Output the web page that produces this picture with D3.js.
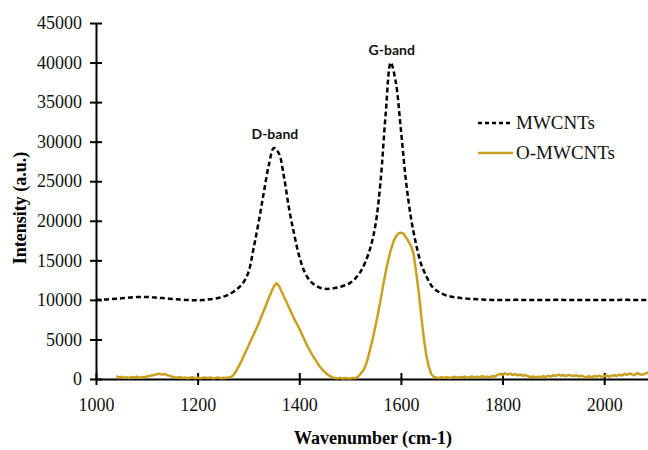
<!DOCTYPE html>
<html>
<head>
<meta charset="utf-8">
<script src="https://cdn.jsdelivr.net/npm/d3@7"></script>
<style>
  body { margin: 0; background: #fff; }
  svg { display: block; }
</style>
</head>
<body>
<svg id="chart" width="648" height="450"></svg>
<script>
// axis ticks
const xTicks = [1000, 1200, 1400, 1600, 1800, 2000];
const yTicks = [0, 5000, 10000, 15000, 20000, 25000, 30000, 35000, 40000, 45000];

// MWCNTs, sampled every 10 cm-1 from 1000 to 2100
const mwStart = 1000, mwStep = 10;
const mwValues = [
  10000, 10020, 10050, 10100, 10150, 10200, 10260, 10310, 10350, 10380,
  10370, 10330, 10280, 10230, 10180, 10120, 10070, 10020, 9980, 9960,
  9950, 9980, 10040, 10120, 10230, 10400, 10650, 11000, 11500, 12200,
  13500, 16500, 19800, 23500, 27000, 29200, 28500, 25500, 21500, 18300,
  15500, 13600, 12500, 11900, 11550, 11400, 11400, 11500, 11650, 11850,
  12150, 12700, 13500, 14800, 16600, 19500, 25000, 33500, 40000, 37500,
  31500, 25000, 20300, 17000, 14500, 13000, 11800, 11200, 10800, 10550,
  10400, 10300, 10220, 10160, 10110, 10070, 10040, 10020, 10000, 10000,
  10000, 9990, 10000, 10010, 10000, 9990, 10000, 10000, 9990, 10000,
  10000, 10010, 10000, 9990, 10000, 10000, 10000, 9990, 10000, 10000,
  10000, 10000, 9990, 10000, 10010, 10000, 10000, 9990, 10000, 10000,
  10000
];

// O-MWCNTs, sampled every 5 cm-1 from 1040 to 2100
const oStart = 1040, oStep = 5;
const oValues = [
  // 1040-1100
  350, 200, 280, 150, 230, 120, 260, 180, 300, 150, 250, 220, 320,
  // 1105-1150
  380, 450, 520, 600, 680, 550, 620, 480, 400, 300,
  // 1155-1260
  220, 150, 250, 120, 180, 90, 160, 220, 100, 170, 80, 150, 200, 110, 180, 90, 140, 200, 100, 160, 120, 180,
  // 1265-1460 (D-band)
  200, 500, 900, 1500, 2100, 2800, 3500, 4200, 4900, 5600,
  6300, 7000, 7800, 8600, 9400, 10200, 11000, 11700, 12100, 11800,
  11100, 10400, 9700, 9000, 8300, 7600, 7000, 6400, 5700, 5000,
  4300, 3700, 3100, 2600, 2100, 1600, 1200, 900, 600, 400,
  // 1465-1510
  200, 120, 80, 150, 60, 130, 90, 50, 140, 100,
  // 1515-1665 (G-band)
  250, 600, 1000, 1600, 2600, 3900, 5200, 6700, 8300, 10000,
  11800, 13500, 15000, 16300, 17300, 18000, 18400, 18500, 18400, 17900,
  17400, 16800, 15800, 13500, 11000, 8000, 5200, 3000, 1500, 600,
  250,
  // 1670-1785
  180, 120, 220, 150, 260, 130, 200, 280, 160, 240, 190, 300,
  170, 250, 320, 200, 280, 230, 350, 260, 300, 220, 380, 300,
  // 1790-1850
  520, 650, 480, 720, 560, 680, 500, 620, 450, 580, 400, 500, 350,
  // 1855-1895
  250, 320, 200, 280, 230, 350, 260, 400, 300,
  // 1900-1960
  480, 380, 560, 420, 500, 360, 520, 440, 380, 480, 330, 420, 300,
  // 1965-2025
  260, 350, 220, 380, 300, 420, 280, 360, 450, 320, 400, 480, 380,
  // 2030-2100
  550, 450, 650, 520, 700, 580, 480, 750, 600, 520, 680, 800, 560, 700, 620
];

const seriesNames = ['MWCNTs', 'O-MWCNTs'];
const bandLabels = [
  { text: 'D-band', wn: 1352, value: 29300 },
  { text: 'G-band', wn: 1582, value: 40000 }
];

const goldColor = '#c9a11f';
const serif = '"Liberation Serif", "Times New Roman", serif';

const svg = d3.select('#chart');

const x = d3.scaleLinear().domain([1000, 2100]).range([96, 655]);
const y = d3.scaleLinear().domain([0, 45000]).range([379, 23]);

const mwData = mwValues.map((v, i) => ({ wn: mwStart + i * mwStep, v: v }));
const oData = oValues.map((v, i) => ({ wn: oStart + i * oStep, v: v }));

// x axis
const xAxis = svg.append('g')
  .attr('transform', `translate(0,${y(0)})`)
  .call(d3.axisBottom(x).tickValues(xTicks).tickFormat(d3.format('d'))
    .tickSize(6).tickSizeOuter(0).tickPadding(0));
xAxis.select('.domain').attr('stroke', '#000').attr('stroke-width', 2);
xAxis.selectAll('.tick line').attr('y1', -6).attr('stroke-width', 2);
xAxis.selectAll('.tick text')
  .attr('y', 19)
  .style('font-family', serif)
  .style('font-size', '18px')
  .attr('fill', '#111');

// y axis
const yAxis = svg.append('g')
  .attr('transform', `translate(${x(1000)},0)`)
  .call(d3.axisLeft(y).tickValues(yTicks).tickFormat(d3.format('d'))
    .tickSize(6).tickSizeOuter(0));
yAxis.select('.domain').attr('stroke', '#000').attr('stroke-width', 2);
yAxis.selectAll('.tick line').attr('x1', 6).attr('stroke-width', 2);
yAxis.selectAll('.tick text')
  .attr('x', -14)
  .style('font-family', serif)
  .style('font-size', '18px')
  .attr('fill', '#111');

// axis titles
svg.append('text')
  .attr('x', 373)
  .attr('y', 444)
  .attr('text-anchor', 'middle')
  .style('font-family', serif)
  .style('font-size', '18px')
  .style('font-weight', 'bold')
  .text('Wavenumber (cm-1)');

svg.append('text')
  .attr('transform', 'translate(26,208) rotate(-90)')
  .attr('text-anchor', 'middle')
  .style('font-family', serif)
  .style('font-size', '18px')
  .style('font-weight', 'bold')
  .text('Intensity (a.u.)');

// curves
const oLine = d3.line()
  .x(d => x(d.wn))
  .y(d => y(d.v));

const mwLine = d3.line()
  .x(d => x(d.wn))
  .y(d => y(d.v))
  .curve(d3.curveCatmullRom);

svg.append('path')
  .datum(oData)
  .attr('fill', 'none')
  .attr('stroke', goldColor)
  .attr('stroke-width', 2.5)
  .attr('stroke-linejoin', 'round')
  .attr('d', oLine);

svg.append('path')
  .datum(mwData)
  .attr('fill', 'none')
  .attr('stroke', '#000')
  .attr('stroke-width', 2.5)
  .attr('stroke-dasharray', '5,3')
  .attr('d', mwLine);

// band labels
svg.selectAll('.band')
  .data(bandLabels)
  .enter()
  .append('text')
  .attr('x', d => x(d.wn))
  .attr('y', d => y(d.value) - 8)
  .attr('text-anchor', 'middle')
  .style('font-family', 'Lato, "Open Sans", sans-serif')
  .style('font-size', '14px')
  .style('font-weight', 'bold')
  .attr('fill', '#111')
  .text(d => d.text);

// legend
const legend = svg.append('g');
seriesNames.forEach((name, i) => {
  const ly = 123 + i * 30;
  legend.append('line')
    .attr('x1', 478).attr('x2', 513)
    .attr('y1', ly).attr('y2', ly)
    .attr('stroke', i === 0 ? '#000' : goldColor)
    .attr('stroke-width', 2.5)
    .attr('stroke-dasharray', i === 0 ? '4,3' : null);
  legend.append('text')
    .attr('x', 516)
    .attr('y', ly + 6)
    .style('font-family', serif)
    .style('font-size', '19px')
    .attr('fill', '#111')
    .text(name);
});
</script>
</body>
</html>
